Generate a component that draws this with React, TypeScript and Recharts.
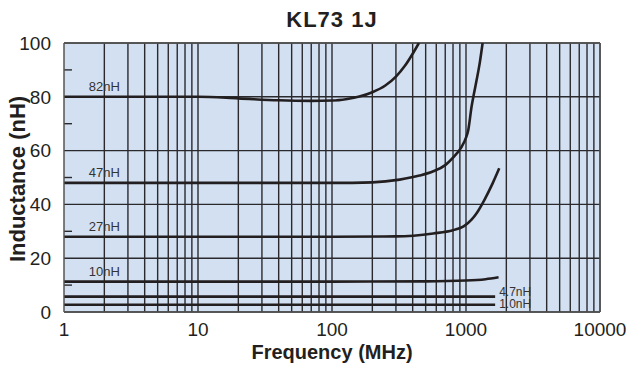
import React from 'react'
import { LineChart, Line, XAxis, YAxis, CartesianGrid, ReferenceLine, ReferenceDot } from 'recharts'

// frequency (MHz) / inductance (nH) pairs
const F_82 = [1, 5, 10, 20, 40, 70, 100, 130, 160, 200, 250, 300, 350, 400, 445]
const L_82 = [80, 80, 80, 79.4, 78.7, 78.5, 78.6, 79.2, 80.1, 81.7, 84.2, 87.5, 91.5, 96, 100]

const F_47 = [1, 10, 100, 200, 320, 450, 570, 700, 800, 930, 1000, 1040, 1100, 1150, 1200, 1270, 1330]
const L_47 = [48, 48, 48, 48.2, 49.2, 50.7, 52.3, 54.6, 57.4, 61.5, 64.8, 67.7, 76.3, 81.5, 86.2, 93, 100]

const F_27 = [1, 10, 100, 300, 570, 800, 960, 1100, 1200, 1370, 1580, 1770]
const L_27 = [28, 28, 28, 28.1, 29.2, 30.4, 31.8, 34.3, 36.7, 41.6, 47.8, 53.4]

const F_10 = [1, 10, 100, 500, 1000, 1400, 1750]
const L_10 = [11.3, 11.3, 11.3, 11.4, 11.7, 12.2, 12.9]

const F_4_7 = [1, 1650]
const L_4_7 = [5.7, 5.7]

const F_1_0 = [1, 1650]
const L_1_0 = [2.7, 2.7]

const X_TICKS = [1, 10, 100, 1000, 10000]
const Y_TICKS = [0, 20, 40, 60, 80, 100]
const Y_MINOR = [10, 30, 50, 70, 90]
const DECADES = [1, 10, 100, 1000]
const MULTS = [2, 3, 4, 5, 6, 7, 8, 9, 10]

const toSeries = (f: number[], l: number[]) => f.map((x, i) => ({ f: x, L: l[i] }))

const series = [
  toSeries(F_82, L_82),
  toSeries(F_47, L_47),
  toSeries(F_27, L_27),
  toSeries(F_10, L_10),
  toSeries(F_4_7, L_4_7),
  toSeries(F_1_0, L_1_0),
]

const vGrid: number[] = []
DECADES.forEach((d) => MULTS.forEach((m) => vGrid.push(d * m)))

const INK = '#231f20'
const GRID = '#2a2a2e'
const font = 'Arial, "Liberation Sans", Helvetica, sans-serif'

export default function App() {
  return (
    <div style={{ position: 'relative', width: 631, height: 365, fontFamily: font }}>
      <style>{'body{margin:0}'}</style>
      <LineChart
        width={631}
        height={365}
        margin={{ top: 43, right: 31, bottom: 0, left: 0 }}
      >
        <CartesianGrid vertical={false} stroke={GRID} strokeWidth={1.4} fill="#d3e0f1" fillOpacity={1} />
        <XAxis
          dataKey="f"
          type="number"
          scale="log"
          domain={[1, 10000]}
          ticks={X_TICKS}
          allowDataOverflow
          height={53}
          tickLine={false}
          tickMargin={5}
          axisLine={{ stroke: '#555', strokeWidth: 1.5 }}
          tick={{ fontSize: 19, fill: INK, fontFamily: font }}
        />
        <YAxis
          type="number"
          domain={[0, 100]}
          ticks={Y_TICKS}
          allowDataOverflow
          width={64}
          tickLine={false}
          tickMargin={7}
          axisLine={{ stroke: '#555', strokeWidth: 1.5 }}
          tick={{ fontSize: 19, fill: INK, fontFamily: font }}
        />
        {vGrid.map((v) => (
          <ReferenceLine key={'v' + v} x={v} stroke={GRID} strokeWidth={1.4} />
        ))}
        <ReferenceLine x={10000} stroke="#555" strokeWidth={1.5} />
        <ReferenceLine y={100} stroke="#555" strokeWidth={1.5} />
        {Y_MINOR.map((v) => (
          <ReferenceLine
            key={'m' + v}
            segment={[{ x: 1, y: v }, { x: 1.147, y: v }]}
            stroke={GRID}
            strokeWidth={1.4}
          />
        ))}
        {series.map((d, i) => (
          <Line
            key={i}
            data={d}
            dataKey="L"
            type="monotone"
            stroke={INK}
            strokeWidth={2.6}
            dot={false}
            isAnimationActive={false}
          />
        ))}
        <ReferenceDot x={2} y={80} r={0} stroke="none" label={{ value: '82nH', position: 'top', offset: 6, fontSize: 13, fill: '#333' }} />
        <ReferenceDot x={2} y={48} r={0} stroke="none" label={{ value: '47nH', position: 'top', offset: 6, fontSize: 13, fill: '#333' }} />
        <ReferenceDot x={2} y={28} r={0} stroke="none" label={{ value: '27nH', position: 'top', offset: 6, fontSize: 13, fill: '#333' }} />
        <ReferenceDot x={2} y={11.3} r={0} stroke="none" label={{ value: '10nH', position: 'top', offset: 6, fontSize: 13, fill: '#333' }} />
        <ReferenceDot x={1650} y={7.7} r={0} stroke="none" label={{ value: '4.7nH', position: 'right', offset: 4, fontSize: 12, fill: '#333' }} />
        <ReferenceDot x={1650} y={3.0} r={0} stroke="none" label={{ value: '1.0nH', position: 'right', offset: 4, fontSize: 12, fill: '#333' }} />
      </LineChart>
      <svg
        width={631}
        height={365}
        style={{ position: 'absolute', left: 0, top: 0, pointerEvents: 'none' }}
      >
        <text x={332} y={27} textAnchor="middle" fontSize={22} fontWeight="bold" letterSpacing={1} fill={INK} fontFamily={font}>
          KL73 1J
        </text>
        <text x={332} y={359} textAnchor="middle" fontSize={20} fontWeight="bold" fill={INK} fontFamily={font}>
          Frequency (MHz)
        </text>
        <text
          x={25}
          y={179}
          textAnchor="middle"
          fontSize={22}
          fontWeight="bold"
          fill={INK}
          fontFamily={font}
          transform="rotate(-90 25 179)"
        >
          Inductance (nH)
        </text>
      </svg>
    </div>
  )
}
